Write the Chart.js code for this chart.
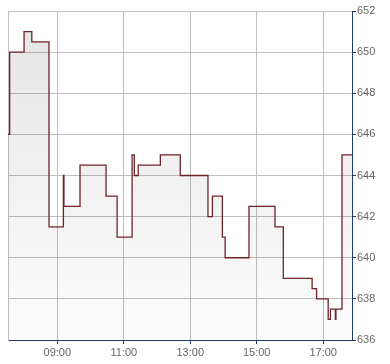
<!DOCTYPE html>
<html>
<head>
<meta charset="utf-8">
<script src="https://cdn.jsdelivr.net/npm/chart.js@4/dist/chart.umd.min.js"></script>
<style>
  html, body { margin: 0; padding: 0; background: #fff; }
  #wrap { width: 390px; height: 364px; }
</style>
</head>
<body>
<div id="wrap"><canvas id="canvas" width="390" height="364"></canvas></div>
<script>
// price steps: time of change (HH:MM) and the new value
var times = ["07:31", "07:34", "08:00", "08:14", "08:45", "09:11", "09:12", "09:41", "10:28", "10:48",
             "11:15", "11:19", "11:26", "12:06", "12:42", "13:32", "13:40", "13:58", "14:03", "14:46",
             "15:33", "15:48", "16:40", "16:48", "17:09", "17:13", "17:22", "17:23", "17:34", "17:52"];
var prices = [646, 650, 651, 650.5, 641.5, 644, 642.5, 644.5, 643, 641,
              645, 644, 644.5, 645, 644, 642, 643, 641, 640, 642.5,
              641.5, 639, 638.5, 638, 637, 637.5, 637, 637.5, 645, 645];
var xTicks = ["09:00", "11:00", "13:00", "15:00", "17:00"];
var yMin = 636, yMax = 652, yStep = 2;

function toMin(s) {
  var p = s.split(":");
  return parseInt(p[0], 10) * 60 + parseInt(p[1], 10);
}
function fmt(m) {
  var h = Math.floor(m / 60), mm = Math.round(m % 60);
  return (h < 10 ? "0" : "") + h + ":" + (mm < 10 ? "0" : "") + mm;
}

var points = times.map(function(t, i) { return {x: toMin(t), y: prices[i]}; });
var navy = "#1f3b6b";

Chart.defaults.font.family = "'Liberation Sans', Arial, sans-serif";
Chart.defaults.font.size = 11;
Chart.defaults.color = "#666";

var ctx = document.getElementById("canvas").getContext("2d");
var chart = new Chart(ctx, {
  type: "line",
  data: {
    datasets: [{
      data: points,
      stepped: true,
      borderColor: "#6e2328",
      borderWidth: 1.3,
      pointRadius: 0,
      fill: "start",
      backgroundColor: function(c) {
        var a = c.chart.chartArea;
        if (!a) return "rgba(0,0,0,0.08)";
        var g = c.chart.ctx.createLinearGradient(0, a.top, 0, a.bottom);
        g.addColorStop(0, "rgba(0,0,0,0.10)");
        g.addColorStop(1, "rgba(0,0,0,0.01)");
        return g;
      }
    }]
  },
  options: {
    responsive: false,
    animation: false,
    layout: { padding: { left: 8, top: 11, right: 0, bottom: 0 } },
    plugins: { legend: { display: false }, tooltip: { enabled: false } },
    scales: {
      x: {
        type: "linear",
        min: toMin("07:31"),
        max: toMin("17:52"),
        afterBuildTicks: function(s) {
          s.ticks = xTicks.map(function(t) { return {value: toMin(t)}; });
        },
        afterFit: function(s) { s.height = 24; },
        ticks: {
          autoSkip: false, maxRotation: 0, padding: 2,
          callback: function(v) { return fmt(v); }
        },
        grid: { color: "#c0c0c0", tickColor: navy, tickLength: 4 },
        border: { color: navy, width: 1 }
      },
      y: {
        position: "right",
        min: yMin,
        max: yMax,
        afterFit: function(s) { s.width = 38; },
        ticks: { stepSize: yStep, padding: 1 },
        grid: { color: "#c0c0c0", tickColor: navy, tickLength: 4 },
        border: { color: navy, width: 1 }
      },
      y2: {
        position: "left",
        ticks: { display: false },
        grid: { display: false, drawTicks: false },
        border: { color: "#c0c0c0", width: 1 },
        afterFit: function(s) { s.width = 0; }
      }
    }
  }
});
</script>
</body>
</html>
